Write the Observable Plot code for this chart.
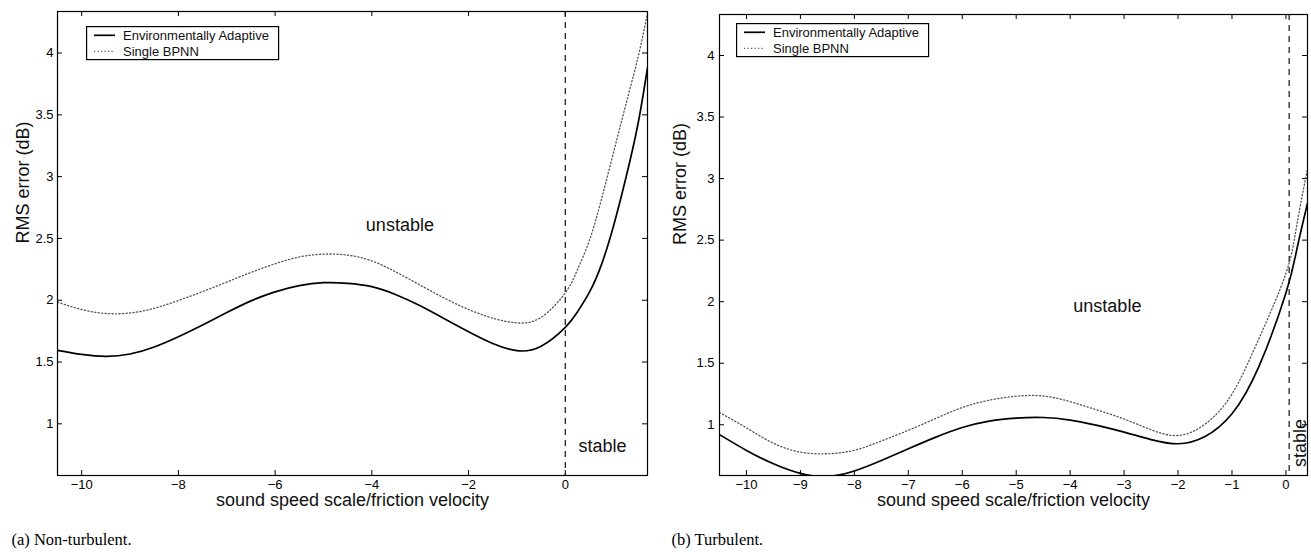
<!DOCTYPE html>
<html>
<head>
<meta charset="utf-8">
<script src="https://cdn.jsdelivr.net/npm/d3@7"></script>
<script src="https://cdn.jsdelivr.net/npm/@observablehq/plot@0.6"></script>
<style>
  html, body { margin: 0; padding: 0; background: #fff; }
  #wrap { position: relative; width: 1311px; height: 552px; overflow: hidden; font-family: "Liberation Sans", Arial, sans-serif; }
  .panel { position: absolute; top: 0; }
  .caption { position: absolute; top: 532px; font-family: "Liberation Serif", "Times New Roman", serif; font-size: 16.5px; line-height: 16.5px; color: #000; white-space: nowrap; }
  .legend { position: absolute; }
</style>
</head>
<body>
<div id="wrap"></div>
<script>
// ---------- data ----------
const seriesNames = ["Environmentally Adaptive", "Single BPNN"];

// (a) Non-turbulent
const xLeft = [-10.5,-10,-9.5,-9,-8.5,-8,-7.5,-7,-6.5,-6,-5.5,-5,-4.5,-4,-3.5,-3,-2.5,-2,-1.5,-1,-0.5,0,0.25,0.5,0.75,1.0,1.25,1.5,1.7];
const leftAdaptive = [1.595,1.562,1.546,1.565,1.622,1.705,1.800,1.900,1.995,2.068,2.118,2.142,2.137,2.110,2.045,1.955,1.850,1.745,1.650,1.592,1.628,1.780,1.905,2.065,2.290,2.605,2.985,3.420,3.880];
const leftBPNN = [1.985,1.925,1.893,1.897,1.935,1.998,2.070,2.147,2.225,2.295,2.350,2.373,2.365,2.318,2.228,2.122,2.017,1.925,1.855,1.817,1.862,2.060,2.245,2.485,2.820,3.200,3.580,3.960,4.320];
const xTicksLeft = [-10,-8,-6,-4,-2,0];
const yDomainLeft = [0.582, 4.336];
const boundaryLeft = [0];
const annoLeftLabel = ["unstable", "stable"];
const annoLeftX = [-3.42, 0.77];
const annoLeftY = [2.61, 0.817];
const annoLeftRotate = [0, 0];

// (b) Turbulent
const xRight = [-10.5,-10,-9.5,-9,-8.5,-8,-7.5,-7,-6.5,-6,-5.5,-5,-4.5,-4,-3.5,-3,-2.5,-2,-1.5,-1,-0.5,0,0.2,0.4];
const rightAdaptive = [0.920,0.792,0.683,0.605,0.580,0.625,0.710,0.805,0.898,0.978,1.030,1.054,1.059,1.038,0.995,0.940,0.880,0.846,0.905,1.090,1.475,2.070,2.420,2.800];
const rightBPNN = [1.100,0.975,0.850,0.778,0.765,0.793,0.868,0.955,1.050,1.140,1.200,1.232,1.234,1.188,1.120,1.047,0.960,0.913,1.005,1.250,1.700,2.230,2.620,3.080];
const xTicksRight = [-10,-9,-8,-7,-6,-5,-4,-3,-2,-1,0];
const yDomainRight = [0.588, 4.333];
const boundaryRight = [0.06];
const annoRightLabel = ["unstable", "stable"];
const annoRightX = [-3.31, 0.274];
const annoRightY = [1.962, 0.852];
const annoRightRotate = [0, -90];

const yTicks = [1, 1.5, 2, 2.5, 3, 3.5, 4];
const xLabel = "sound speed scale/friction velocity";
const yLabel = "RMS error (dB)";
const captions = ["(a) Non-turbulent.", "(b) Turbulent."];

// ---------- drawing ----------
const fmt = d => (d < 0 ? "\u2212" + Math.abs(d) : String(d));
const FONT = "'Liberation Sans', Arial, sans-serif";

function panel(cfg) {
  const W = cfg.width, H = 520;
  const pw = W - cfg.ml - cfg.mr, ph = H - cfg.mt - cfg.mb;
  const adaptive = cfg.xs.map((x, i) => ({x, y: cfg.a[i]}));
  const bpnn = cfg.xs.map((x, i) => ({x, y: cfg.b[i]}));
  const anno = cfg.annoLabel.map((label, i) => ({label, x: cfg.annoX[i], y: cfg.annoY[i], r: cfg.annoR[i]}));
  const T = 5;
  return Plot.plot({
    width: W, height: H,
    marginLeft: cfg.ml, marginRight: cfg.mr, marginTop: cfg.mt, marginBottom: cfg.mb,
    x: {domain: cfg.xDomain},
    y: {domain: cfg.yDomain},
    style: {fontFamily: FONT, fontSize: "13px", color: "#000", background: "transparent", overflow: "visible"},
    marks: [
      Plot.axisX(cfg.xTicks, {tickSize: 0, tickPadding: 4, tickFormat: fmt, label: null, fontSize: 13}),
      Plot.axisY(yTicks, {tickSize: 0, tickPadding: cfg.ypad, tickFormat: fmt, label: null, fontSize: 13}),
      // inward tick marks on all four sides
      Plot.tickX(cfg.xTicks, {x: d => d, insetTop: ph - T, stroke: "#000", strokeWidth: 1}),
      Plot.tickX(cfg.xTicks, {x: d => d, insetBottom: ph - T, stroke: "#000", strokeWidth: 1}),
      Plot.tickY(yTicks, {y: d => d, insetRight: pw - T, stroke: "#000", strokeWidth: 1}),
      Plot.tickY(yTicks, {y: d => d, insetLeft: pw - T, stroke: "#000", strokeWidth: 1}),
      Plot.ruleX(cfg.boundary, {x: d => d, stroke: "#111", strokeWidth: 1.2, strokeDasharray: "6,5"}),
      Plot.line(bpnn, {x: "x", y: "y", curve: "natural", stroke: "#555", strokeWidth: 1.3, strokeDasharray: "1.2,2.3", clip: true}),
      Plot.line(adaptive, {x: "x", y: "y", curve: "natural", stroke: "#000", strokeWidth: 1.7, clip: true}),
      Plot.frame({stroke: "#000", strokeWidth: 1.2}),
      Plot.text(anno, {x: "x", y: "y", text: "label", rotate: "r", fontSize: 18, fill: "#111"}),
      Plot.text([xLabel], {text: d => d, frameAnchor: "bottom", dy: 30.5, fontSize: 18, fill: "#111"}),
      Plot.text([yLabel], {text: d => d, frameAnchor: "left", rotate: -90, dx: cfg.ydx, fontSize: 18, fill: "#111"})
    ]
  });
}

function legend(left, top) {
  const ns = "http://www.w3.org/2000/svg";
  const svg = document.createElementNS(ns, "svg");
  svg.setAttribute("width", 194); svg.setAttribute("height", 35);
  svg.setAttribute("class", "legend");
  svg.style.left = left + "px"; svg.style.top = top + "px";
  const rect = document.createElementNS(ns, "rect");
  rect.setAttribute("x", 0.6); rect.setAttribute("y", 0.6);
  rect.setAttribute("width", 192); rect.setAttribute("height", 33);
  rect.setAttribute("fill", "#fff"); rect.setAttribute("stroke", "#000"); rect.setAttribute("stroke-width", 1.2);
  svg.appendChild(rect);
  const rows = [
    {name: seriesNames[0], y: 9.3, stroke: "#000", w: 1.7, dash: null},
    {name: seriesNames[1], y: 25.3, stroke: "#555", w: 1.3, dash: "1.2,2.3"}
  ];
  for (const r of rows) {
    const l = document.createElementNS(ns, "line");
    l.setAttribute("x1", 8); l.setAttribute("x2", 29);
    l.setAttribute("y1", r.y); l.setAttribute("y2", r.y);
    l.setAttribute("stroke", r.stroke); l.setAttribute("stroke-width", r.w);
    if (r.dash) l.setAttribute("stroke-dasharray", r.dash);
    svg.appendChild(l);
    const t = document.createElementNS(ns, "text");
    t.setAttribute("x", 37); t.setAttribute("y", r.y);
    t.setAttribute("dy", "0.35em");
    t.setAttribute("font-family", FONT); t.setAttribute("font-size", 13);
    t.setAttribute("fill", "#111");
    t.textContent = r.name;
    svg.appendChild(t);
  }
  return svg;
}

const wrap = document.getElementById("wrap");

const p1 = panel({width: 655, ml: 57, mr: 8, mt: 11, mb: 45, xDomain: [-10.5, 1.7], yDomain: yDomainLeft,
  xs: xLeft, a: leftAdaptive, b: leftBPNN, xTicks: xTicksLeft, boundary: boundaryLeft,
  annoLabel: annoLeftLabel, annoX: annoLeftX, annoY: annoLeftY, annoR: annoLeftRotate, ypad: 4, ydx: -34});
p1.classList.add("panel"); p1.style.left = "0px";
wrap.appendChild(p1);

const p2 = panel({width: 656, ml: 64, mr: 4, mt: 14, mb: 45, xDomain: [-10.5, 0.4], yDomain: yDomainRight,
  xs: xRight, a: rightAdaptive, b: rightBPNN, xTicks: xTicksRight, boundary: boundaryRight,
  annoLabel: annoRightLabel, annoX: annoRightX, annoY: annoRightY, annoR: annoRightRotate, ypad: 5, ydx: -39});
p2.classList.add("panel"); p2.style.left = "655px";
wrap.appendChild(p2);

wrap.appendChild(legend(85.5, 26.3));
wrap.appendChild(legend(735.5, 23));

const c1 = document.createElement("div");
c1.className = "caption"; c1.style.left = "11.5px"; c1.textContent = captions[0];
wrap.appendChild(c1);
const c2 = document.createElement("div");
c2.className = "caption"; c2.style.left = "671.5px"; c2.textContent = captions[1];
wrap.appendChild(c2);
</script>
</body>
</html>
